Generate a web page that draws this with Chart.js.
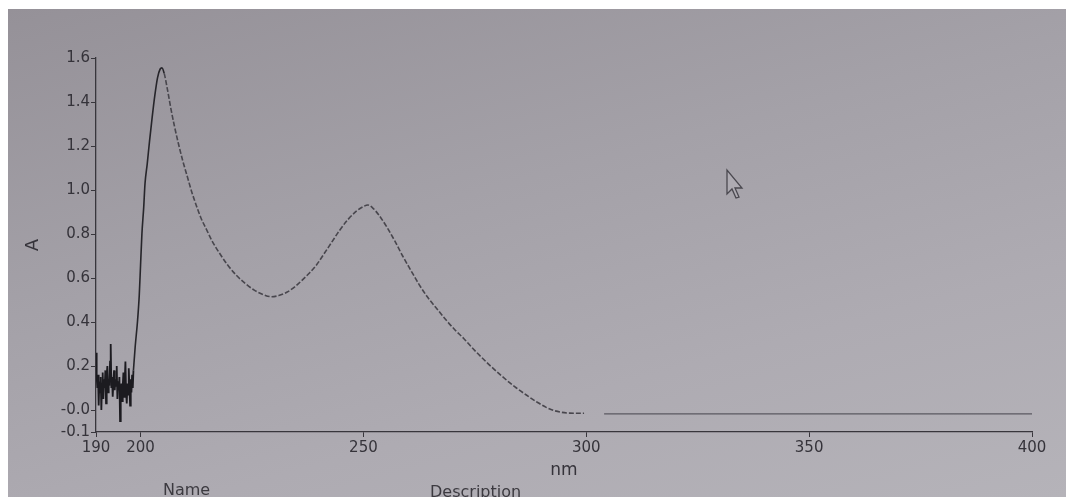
<!DOCTYPE html>
<html>
<head>
<meta charset="utf-8">
<script src="https://cdn.jsdelivr.net/npm/chart.js@4/dist/chart.umd.min.js"></script>
<style>
  html, body { margin: 0; padding: 0; background: #ffffff; width: 1066px; height: 497px; overflow: hidden; }
  #screen { position: absolute; left: 8px; top: 9px; width: 1058px; height: 488px;
    background: linear-gradient(165deg, #959198 0%, #a4a1a8 40%, #aeabb2 70%, #b5b3b9 100%); }
  #c { position: absolute; left: 0; top: 0; }
  .lbl { position: absolute; font-family: "DejaVu Sans", sans-serif; font-size: 16px; color: #3c3a40; white-space: nowrap; }
  #cursor { position: absolute; left: 725px; top: 168px; }
</style>
</head>
<body>
<div id="screen"></div>
<canvas id="c" width="1066" height="497"></canvas>
<div class="lbl" style="left:163px; top:480px;">Name</div>
<div class="lbl" style="left:430px; top:482px;">Description</div>
<svg id="cursor" width="22" height="34" viewBox="0 0 22 34">
  <polygon points="2,2 2,26 7,21 11,30 14,29 10,20 17,20" fill="#aeabb2" stroke="#4a484f" stroke-width="1.3"/>
</svg>
<script>
// ---- data ----
const noiseNm = [190.00,190.15,190.30,190.45,190.60,190.75,190.90,191.05,191.20,191.35,191.50,191.65,191.80,191.95,192.10,192.25,192.40,192.55,192.70,192.85,193.00,193.15,193.30,193.45,193.60,193.75,193.90,194.05,194.20,194.35,194.50,194.65,194.80,194.95,195.10,195.25,195.40,195.55,195.70,195.85,196.00,196.15,196.30,196.45,196.60,196.75,196.90,197.05,197.20,197.35,197.50,197.65,197.80,197.95,198.10,198.25,198.40];
const noiseA  = [0.26,0.15,0.10,0.16,0.02,0.13,0.08,0.15,0.00,0.12,0.17,0.05,0.14,0.10,0.18,0.03,0.16,0.20,0.08,0.14,0.11,0.22,0.30,0.10,0.15,0.06,0.13,0.18,0.09,0.14,0.11,0.20,0.05,0.13,0.09,0.15,-0.05,0.07,0.12,0.04,0.11,0.17,0.06,0.13,0.22,0.08,0.03,0.12,0.07,0.19,0.10,0.02,0.14,0.08,0.16,0.10,0.18];

const bandNm = [198.4,198.8,199.3,199.7,200.0,200.3,200.7,201.0,201.5,202.0,202.6,203.2,203.8,204.4,204.8,205.3,206.0,206.8,207.6,208.5,209.5,210.5,211.5,212.5,213.5,214.8,216.0,217.8,219.5,221.6,223.5,225.5,227.5,229.3,231.0,232.8,234.6,236.5,238.0,239.5,241.0,242.8,244.6,246.5,248.5,250.0,251.0,252.0,253.5,255.3,257.0,258.8,260.6,262.5,264.5,266.7,268.5,270.5,272.5,275.0,278.0,281.0,284.0,287.0,289.0,291.0,293.0,296.2,299.5];
const bandA  = [0.18,0.29,0.40,0.52,0.66,0.80,0.92,1.03,1.12,1.22,1.33,1.43,1.51,1.55,1.555,1.53,1.46,1.37,1.29,1.21,1.13,1.06,0.99,0.93,0.875,0.82,0.77,0.71,0.66,0.61,0.575,0.545,0.525,0.515,0.52,0.535,0.56,0.595,0.625,0.66,0.705,0.76,0.815,0.865,0.905,0.925,0.932,0.92,0.885,0.83,0.77,0.70,0.636,0.57,0.51,0.455,0.41,0.365,0.325,0.27,0.21,0.155,0.105,0.062,0.035,0.012,-0.004,-0.014,-0.015];

const baseNm = [304, 320, 340, 360, 380, 400];
const baseA  = [-0.018, -0.018, -0.018, -0.018, -0.018, -0.018];

const xTickValues = [190, 200, 250, 300, 350, 400];
const yTickValues = [-0.1, 0.0, 0.2, 0.4, 0.6, 0.8, 1.0, 1.2, 1.4, 1.6];
const yTickLabels = ['-0.1', '-0.0', '0.2', '0.4', '0.6', '0.8', '1.0', '1.2', '1.4', '1.6'];

const xTitle = 'nm';
const yTitle = 'A';

// ---- chart ----
const pts = (xs, ys) => xs.map((x, i) => ({ x: x, y: ys[i] }));
const axisColor = '#38363c';
const textColor = '#35333a';
const solidUntil = 205;

new Chart(document.getElementById('c'), {
  type: 'scatter',
  data: {
    datasets: [
      { data: pts(noiseNm, noiseA), showLine: true, borderColor: '#1c1b20', borderWidth: 1.8, pointRadius: 0, tension: 0 },
      { data: pts(bandNm, bandA), showLine: true, borderColor: '#48464d', borderWidth: 1.6, borderDash: [5, 2], pointRadius: 0, cubicInterpolationMode: 'monotone',
        segment: {
          borderDash: ctx => ctx.p0.parsed.x < solidUntil ? [] : [5, 2],
          borderColor: ctx => ctx.p0.parsed.x < solidUntil ? '#26252a' : '#48464d'
        } },
      { data: pts(baseNm, baseA), showLine: true, borderColor: '#5a5860', borderWidth: 1.2, pointRadius: 0, tension: 0 }
    ]
  },
  options: {
    responsive: false,
    animation: false,
    events: [],
    layout: { padding: { top: 58, right: 34, left: 0, bottom: 0 } },
    plugins: { legend: { display: false }, tooltip: { enabled: false } },
    scales: {
      x: {
        type: 'linear', min: 190, max: 400,
        afterBuildTicks: s => { s.ticks = xTickValues.map(v => ({ value: v })); },
        afterFit: s => { s.height = 65; },
        ticks: { autoSkip: false, maxRotation: 0, padding: 2, color: textColor, font: { family: 'DejaVu Sans', size: 15 } },
        grid: { drawOnChartArea: false, drawTicks: true, tickLength: 5, color: axisColor },
        border: { color: axisColor, width: 1.3 },
        title: { display: true, text: xTitle, color: textColor, font: { family: 'DejaVu Sans', size: 17 }, padding: { top: 0, bottom: 16 } }
      },
      y: {
        type: 'linear', min: -0.1, max: 1.6,
        afterBuildTicks: s => { s.ticks = yTickValues.map(v => ({ value: v })); },
        afterFit: s => { s.width = 96; },
        ticks: { autoSkip: false, padding: 1, color: textColor, font: { family: 'DejaVu Sans', size: 15 },
          callback: v => { const i = yTickValues.findIndex(t => Math.abs(t - v) < 1e-9); return i >= 0 ? yTickLabels[i] : ''; } },
        grid: { drawOnChartArea: false, drawTicks: true, tickLength: 5, color: axisColor },
        border: { color: axisColor, width: 1.3 },
        title: { display: true, text: yTitle, color: textColor, font: { family: 'DejaVu Sans', size: 18 }, padding: { top: 23, bottom: 0 } }
      }
    }
  }
});
</script>
</body>
</html>
